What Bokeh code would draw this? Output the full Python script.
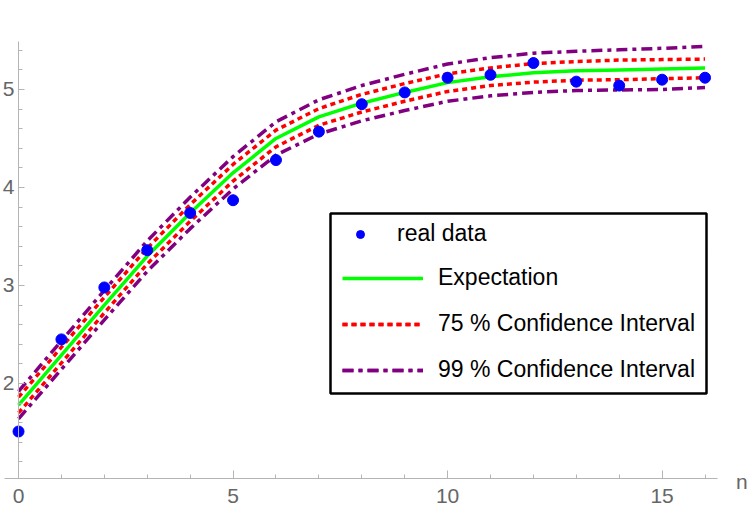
from bokeh.plotting import figure
from bokeh.models import (Range1d, FixedTicker, LinearAxis, Legend, LegendItem,
                          BoxAnnotation, Label)
from bokeh.embed import file_html
from bokeh.resources import INLINE

# sample index
n = list(range(17))

# observed values
real_data = [1.51, 2.45, 2.98, 3.36, 3.74, 3.87, 4.28, 4.57, 4.85, 4.97,
             5.12, 5.15, 5.27, 5.08, 5.04, 5.10, 5.12]

# model expectation and its confidence bands
expectation = [1.78, 2.29, 2.80, 3.30, 3.74, 4.15, 4.50, 4.72, 4.86, 4.97,
               5.07, 5.13, 5.17, 5.19, 5.20, 5.21, 5.22]
ci75_upper = [1.86, 2.37, 2.88, 3.38, 3.825, 4.235, 4.585, 4.805, 4.95, 5.06,
              5.16, 5.22, 5.265, 5.285, 5.30, 5.305, 5.31]
ci75_lower = [1.70, 2.21, 2.72, 3.22, 3.655, 4.065, 4.415, 4.635, 4.77, 4.88,
              4.98, 5.04, 5.075, 5.095, 5.10, 5.11, 5.12]
ci99_upper = [1.92, 2.435, 2.95, 3.455, 3.90, 4.315, 4.67, 4.895, 5.04, 5.155,
              5.26, 5.325, 5.37, 5.39, 5.405, 5.42, 5.44]
ci99_lower = [1.64, 2.145, 2.65, 3.145, 3.58, 3.985, 4.33, 4.545, 4.68, 4.785,
              4.88, 4.935, 4.97, 4.99, 4.995, 5.00, 5.02]

x_major = [0, 5, 10, 15]
x_minor = [1, 2, 3, 4, 6, 7, 8, 9, 11, 12, 13, 14, 16]
y_major = [2, 3, 4, 5]
y_minor = [1.2, 1.4, 1.6, 1.8, 2.2, 2.4, 2.6, 2.8, 3.2, 3.4, 3.6, 3.8,
           4.2, 4.4, 4.6, 4.8, 5.2, 5.4]

FONT = "Liberation Sans"
AXIS_GRAY = "#b4b4b4"
LABEL_GRAY = "#666666"

p = figure(width=750, height=515, output_backend="svg", toolbar_location=None,
           x_range=Range1d(-0.42, 17.06), y_range=Range1d(0.653, 5.908),
           x_axis_location=None, y_axis_location=None, min_border=0)
p.outline_line_color = None
p.xgrid.visible = False
p.ygrid.visible = False
p.background_fill_color = "white"
p.border_fill_color = "white"

# axes crossing near the origin, ticks pointing inward
xaxis = LinearAxis(fixed_location=1.03, bounds=(-0.33, 16.3),
                   ticker=FixedTicker(ticks=x_major, minor_ticks=x_minor))
yaxis = LinearAxis(fixed_location=0, bounds=(1.03, 5.49),
                   ticker=FixedTicker(ticks=y_major, minor_ticks=y_minor))
for ax in (xaxis, yaxis):
    ax.axis_line_color = AXIS_GRAY
    ax.major_tick_line_color = AXIS_GRAY
    ax.minor_tick_line_color = AXIS_GRAY
    ax.major_tick_out = 0
    ax.minor_tick_out = 0
    ax.major_label_text_font = FONT
    ax.major_label_text_font_size = "21px"
    ax.major_label_text_color = LABEL_GRAY
xaxis.major_tick_in = 8
xaxis.minor_tick_in = 4
xaxis.major_label_standoff = 10
yaxis.major_tick_in = 6
yaxis.minor_tick_in = 4
yaxis.major_label_standoff = 4
p.add_layout(xaxis, "below")
p.add_layout(yaxis, "left")

r99u = p.line(n, ci99_upper, line_color="#800080", line_width=3.5, line_dash="11 5 4 5")
r99l = p.line(n, ci99_lower, line_color="#800080", line_width=3.5, line_dash="11 5 4 5")
r75u = p.line(n, ci75_upper, line_color="#ff0000", line_width=3.5, line_dash="5 4")
r75l = p.line(n, ci75_lower, line_color="#ff0000", line_width=3.5, line_dash="5 4")
rexp = p.line(n, expectation, line_color="#00ff00", line_width=3.5)
rpts = p.scatter(n, real_data, size=11, fill_color="#0000ff", line_color="#0000ff")

# axis name at the end of the horizontal axis
p.add_layout(Label(x=16.72, y=1.0, text="n", text_font=FONT, text_font_size="21px",
                   text_color=LABEL_GRAY, text_baseline="middle"))

# legend frame
p.add_layout(BoxAnnotation(left=330, right=706, top=515 - 213, bottom=515 - 393,
                           left_units="screen", right_units="screen",
                           top_units="screen", bottom_units="screen",
                           fill_color="white", fill_alpha=1.0,
                           line_color="black", line_alpha=1.0, line_width=2.5))

def style_legend(lg, glyph_width):
    lg.border_line_alpha = 0
    lg.background_fill_alpha = 0
    lg.label_text_font = FONT
    lg.label_text_font_size = "23px"
    lg.label_text_color = "black"
    lg.glyph_width = glyph_width
    lg.glyph_height = 20
    lg.label_height = 20
    lg.label_standoff = 15
    lg.spacing = 19
    lg.padding = 10
    lg.margin = 0

legend_pts = Legend(items=[LegendItem(label="real data", renderers=[rpts])],
                    location=(328, 258))
style_legend(legend_pts, 44)

legend_lines = Legend(items=[
    LegendItem(label="Expectation", renderers=[rexp]),
    LegendItem(label="75 % Confidence Interval", renderers=[r75u, r75l]),
    LegendItem(label="99 % Confidence Interval", renderers=[r99u, r99l]),
], location=(332, 122))
style_legend(legend_lines, 81)

p.add_layout(legend_pts)
p.add_layout(legend_lines)

open("out.html", "w").write(file_html(p, INLINE))
